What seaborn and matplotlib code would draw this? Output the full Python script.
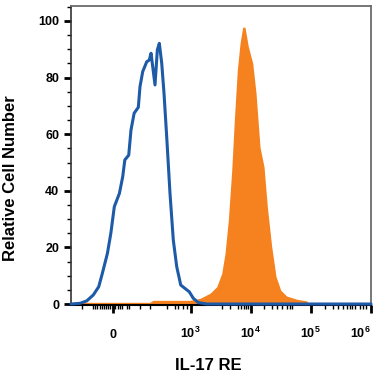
import matplotlib
matplotlib.use("Agg")
import matplotlib.pyplot as plt
from matplotlib.ticker import FixedLocator, MultipleLocator
import seaborn as sns

# x values are display positions on the biexponential axis, in decades
# (3 -> 10^3, 4 -> 10^4 ...).

# Isotype control (blue outline)
ISOTYPE_X = [1.008, 1.020, 1.158, 1.270, 1.380, 1.470, 1.530, 1.615, 1.672, 1.730,
             1.815, 1.870, 1.905, 1.970, 2.008, 2.060, 2.130, 2.158, 2.203, 2.270,
             2.313, 2.342, 2.408, 2.447, 2.480, 2.520, 2.558, 2.603, 2.658, 2.713,
             2.770, 2.837, 2.908, 2.980, 3.047, 3.130, 3.270, 6.008]
ISOTYPE_Y = [0.0, 0.0, 0.25, 1.1, 3.2, 6.1, 10.8, 17.9, 25.0, 34.4,
             39.1, 45.0, 50.9, 52.6, 61.5, 67.4, 69.5, 76.8, 82.1, 85.6,
             86.2, 88.6, 77.4, 89.8, 92.1, 85.1, 74.5, 59.1, 39.1, 22.6,
             13.2, 6.7, 5.5, 4.3, 2.0, 0.5, 0.0, 0.0]

# IL-17 RE stained cells (orange filled)
IL17_X = [1.008, 2.325, 2.375, 2.992, 3.158, 3.325, 3.437, 3.520, 3.575, 3.630,
          3.687, 3.730, 3.780, 3.825, 3.870, 3.908, 3.963, 4.037, 4.092, 4.158,
          4.225, 4.280, 4.353, 4.425, 4.503, 4.603, 4.770, 4.937, 4.975, 6.008]
IL17_Y = [0.6, 0.6, 1.3, 1.3, 2.0, 3.8, 6.1, 10.8, 17.9, 29.6,
          47.3, 65.0, 82.7, 92.1, 97.8, 97.8, 91.0, 85.1, 74.5, 55.5,
          48.5, 34.4, 20.3, 9.7, 4.9, 2.8, 1.7, 1.1, 0.0, 0.0]

X_TICKS = [1.70, 3, 4, 5, 6]
X_TICK_LABELS = ["0", r"$\mathbf{10^{3}}$", r"$\mathbf{10^{4}}$",
                 r"$\mathbf{10^{5}}$", r"$\mathbf{10^{6}}$"]
X_MINOR = [1.192, 1.375, 1.408, 1.442, 1.492, 1.525, 1.558, 1.592, 1.625, 1.658,
           1.708, 1.742, 1.792, 1.825, 1.858, 1.942, 1.975,
           2.158, 2.325, 2.608, 2.742, 2.792, 2.875, 2.942,
           3.525, 3.658, 3.792, 3.842, 3.892, 3.925, 3.958,
           4.225, 4.358, 4.442, 4.525, 4.608, 4.658, 4.692,
           5.242, 5.375, 5.458, 5.542, 5.608, 5.658, 5.692, 5.742, 5.825, 5.875, 5.925]

BLUE = "#1d5aa8"
ORANGE = "#f5821f"

sns.set_theme(style="ticks")
plt.rcParams["font.family"] = ["Liberation Sans", "DejaVu Sans"]
plt.rcParams["font.weight"] = "bold"
plt.rcParams["mathtext.fontset"] = "custom"
plt.rcParams["mathtext.bf"] = "Liberation Sans:bold"
plt.rcParams["mathtext.rm"] = "Liberation Sans:bold"
for key in ["text.color", "axes.labelcolor", "xtick.color", "ytick.color"]:
    plt.rcParams[key] = "black"

fig = plt.figure(figsize=(3.75, 3.75), dpi=100)
ax = fig.add_axes([71 / 375, 70 / 375, 300 / 375, 299 / 375])

ax.fill_between(IL17_X, IL17_Y, 0, color=ORANGE, linewidth=0, zorder=2)
sns.lineplot(x=ISOTYPE_X, y=ISOTYPE_Y, ax=ax, color=BLUE, linewidth=2.2,
             estimator=None, sort=False, zorder=3, clip_on=False)

ax.set_xlim(1.008, 6.008)
ax.set_ylim(-0.35, 105.3)

ax.set_xticks(X_TICKS)
ax.set_xticklabels(X_TICK_LABELS)
ax.xaxis.set_minor_locator(FixedLocator(X_MINOR))
ax.set_yticks([0, 20, 40, 60, 80, 100])
ax.yaxis.set_minor_locator(MultipleLocator(5))

ax.tick_params(axis="both", which="major", direction="out", length=5.4, width=2.0,
               color="black", labelsize=9)
ax.tick_params(axis="both", which="minor", direction="out", length=3.0, width=1.0,
               color="black")
ax.tick_params(axis="x", which="major", pad=18)
ax.tick_params(axis="y", which="major", pad=3.0)
plt.setp(ax.get_xticklabels(), va="baseline", fontweight="bold")
plt.setp(ax.get_yticklabels(), fontweight="bold")
ax.get_xticklabels()[-1].set_ha("right")

for side in ["top", "right"]:
    ax.spines[side].set_color("#6b6b6b")
    ax.spines[side].set_linewidth(1.3)
ax.spines["left"].set_color("#333333")
ax.spines["left"].set_linewidth(1.2)
ax.spines["bottom"].set_color("black")
ax.spines["bottom"].set_linewidth(1.5)

ax.set_xlabel("IL-17 RE", fontsize=12, fontweight="bold")
ax.set_ylabel("Relative Cell Number", fontsize=12, fontweight="bold")
ax.xaxis.set_label_coords(0.457, -0.177)
ax.yaxis.set_label_coords(-0.177, 0.425)

fig.savefig("out.png", dpi=100)
plt.close(fig)
